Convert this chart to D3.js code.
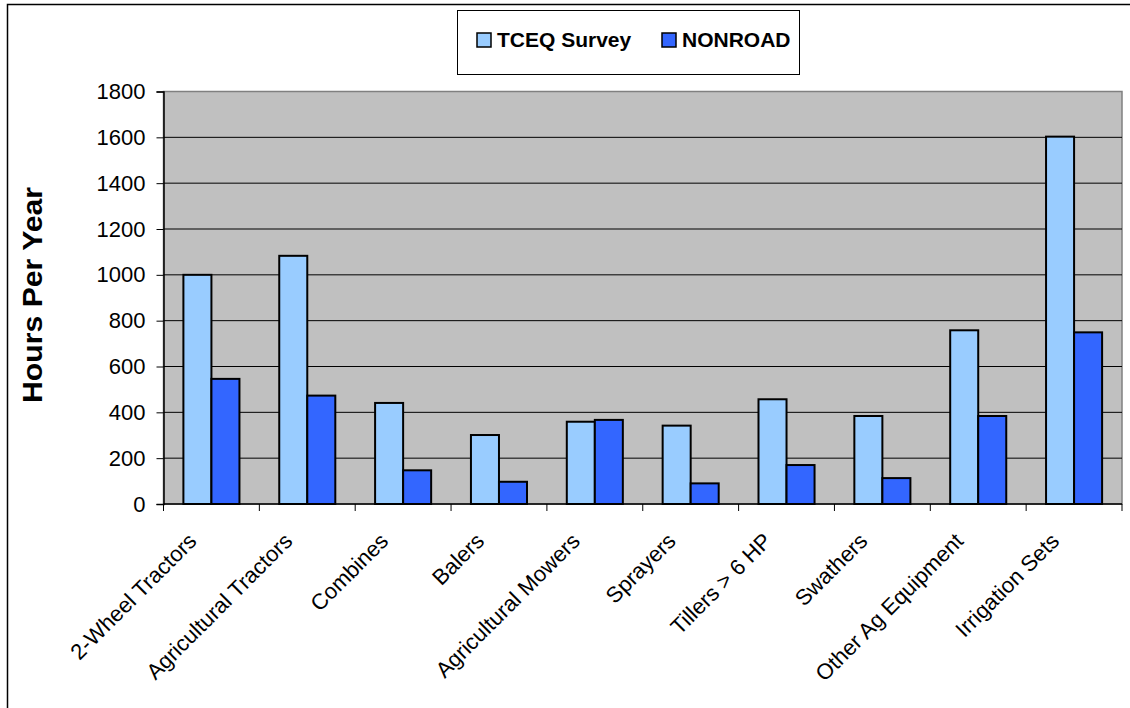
<!DOCTYPE html>
<html>
<head>
<meta charset="utf-8">
<script src="https://cdn.jsdelivr.net/npm/d3@7"></script>
<style>
  body { margin: 0; background: #fff; }
  svg { display: block; font-family: "Liberation Sans", Arial, sans-serif; }
</style>
</head>
<body>
<div id="chart"></div>
<script>
const categories = ["2-Wheel Tractors", "Agricultural Tractors", "Combines", "Balers", "Agricultural Mowers",
    "Sprayers", "Tillers > 6 HP", "Swathers", "Other Ag Equipment", "Irrigation Sets"];
const seriesNames = ["TCEQ Survey", "NONROAD"];
const tceqSurvey = [1000, 1083, 441, 301, 359, 342, 457, 384, 758, 1603];
const nonroad = [546, 473, 147, 97, 367, 90, 170, 113, 384, 749];
const yTicks = [0, 200, 400, 600, 800, 1000, 1200, 1400, 1600, 1800];
const colors = ["#99CCFF", "#3366FF"];

function main() {
    const W = 1130, H = 708;
    const left = 163.5, right = 1122, top = 91.5, bottom = 504;

    const svg = d3.select("#chart").append("svg")
        .attr("width", W)
        .attr("height", H);

    // outer chart border (only top/left visible)
    svg.append("rect")
        .attr("x", 7.5).attr("y", 4.5)
        .attr("width", W + 20).attr("height", H + 20)
        .attr("fill", "#fff").attr("stroke", "#000").attr("stroke-width", 1.5);

    const x0 = d3.scaleBand().domain(categories).range([left, right]);
    const x1 = d3.scaleBand().domain(seriesNames).range([0, x0.bandwidth()]).paddingOuter(0.71);
    const y = d3.scaleLinear().domain([0, 1800]).range([bottom, top]);

    // plot area
    svg.append("rect")
        .attr("x", left).attr("y", top)
        .attr("width", right - left).attr("height", bottom - top)
        .attr("fill", "#C0C0C0").attr("stroke", "#808080").attr("stroke-width", 1.5);

    // gridlines
    svg.append("g").selectAll("line")
        .data(yTicks.filter(d => d > 0 && d < 1800))
        .join("line")
        .attr("x1", left).attr("x2", right)
        .attr("y1", d => y(d)).attr("y2", d => y(d))
        .attr("stroke", "#000").attr("stroke-width", 1);

    // y axis
    const yAxis = svg.append("g")
        .attr("transform", `translate(${left},0)`)
        .call(d3.axisLeft(y).tickValues(yTicks).tickSize(7).tickPadding(11).tickFormat(d3.format("d")));
    yAxis.select(".domain").attr("stroke", "#000").attr("stroke-width", 1.5);
    yAxis.selectAll("text").attr("font-size", 22).attr("fill", "#000")
        .attr("font-family", "'Liberation Sans', Arial, sans-serif");

    // x axis
    const xAxis = svg.append("g")
        .attr("transform", `translate(0,${bottom})`);
    xAxis.append("line")
        .attr("x1", left).attr("x2", right)
        .attr("stroke", "#000").attr("stroke-width", 1.5);
    const bounds = categories.map(c => x0(c)).concat([right]);
    xAxis.selectAll(".tk").data(bounds).join("line")
        .attr("class", "tk")
        .attr("x1", d => d).attr("x2", d => d)
        .attr("y1", 0).attr("y2", 7)
        .attr("stroke", "#000");
    xAxis.selectAll("text").data(categories).join("text")
        .attr("transform", d => `translate(${x0(d) + x0.bandwidth() / 2 - 19},33) rotate(-45)`)
        .attr("text-anchor", "end")
        .attr("dy", "0.35em")
        .attr("font-size", 22)
        .text(d => d);

    // bars
    const rows = categories.map((c, i) => ({ cat: c, vals: [tceqSurvey[i], nonroad[i]] }));
    svg.append("g").selectAll("g")
        .data(rows)
        .join("g")
        .attr("transform", d => `translate(${x0(d.cat)},0)`)
        .selectAll("rect")
        .data(d => d.vals.map((v, j) => ({ key: seriesNames[j], v: v, j: j })))
        .join("rect")
        .attr("x", d => x1(d.key))
        .attr("width", x1.bandwidth())
        .attr("y", d => y(d.v))
        .attr("height", d => bottom - y(d.v))
        .attr("fill", d => colors[d.j])
        .attr("stroke", "#000").attr("stroke-width", 2);

    // y title
    svg.append("text")
        .attr("transform", "translate(41.5,295) rotate(-90)")
        .attr("text-anchor", "middle")
        .attr("font-size", 27).attr("font-weight", "bold")
        .attr("textLength", 216).attr("lengthAdjust", "spacingAndGlyphs")
        .text("Hours Per Year");

    // legend
    const lg = svg.append("g");
    lg.append("rect")
        .attr("x", 457.5).attr("y", 10.5).attr("width", 342).attr("height", 64)
        .attr("fill", "#fff").attr("stroke", "#000").attr("stroke-width", 1);
    const legX = [477, 662];
    seriesNames.forEach((s, i) => {
        lg.append("rect")
            .attr("x", legX[i]).attr("y", 33).attr("width", 14).attr("height", 14)
            .attr("fill", colors[i]).attr("stroke", "#000").attr("stroke-width", 1.5);
        lg.append("text")
            .attr("x", legX[i] + 20).attr("y", 47)
            .attr("font-size", 21).attr("font-weight", "bold")
            .text(s);
    });
}
main();
</script>
</body>
</html>
